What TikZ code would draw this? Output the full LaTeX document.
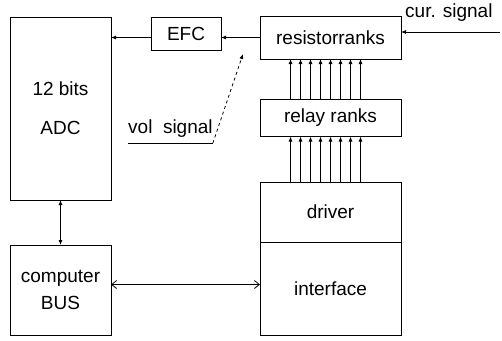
\documentclass[tikz,border=0pt]{standalone}
\usepackage{fontspec}
\setmainfont{Liberation Sans}
\usepackage{tikz}
\usetikzlibrary{arrows.meta,positioning}

\begin{document}
\begin{tikzpicture}[x=1pt, y=-1pt,
      blk/.style={draw, line width=0.8pt, inner sep=0pt, outer sep=0pt,
                  font=\fontsize{19}{23}\selectfont, align=center},
      lbl/.style={inner sep=0pt, font=\fontsize{19}{23}\selectfont},
      arr/.style={-{Latex[length=5pt,width=4pt]}, line width=0.8pt},
      darr/.style={{Latex[length=5pt,width=4pt]}-{Latex[length=5pt,width=4pt]}, line width=0.8pt},
      barb/.style={{Straight Barb[length=5pt,width=8pt]}-{Straight Barb[length=5pt,width=8pt]}, line width=0.8pt}
  ]
    \useasboundingbox (0,0) rectangle (502,340);
    \node[blk, minimum width=101pt, minimum height=183pt] (adc) at (60.5,108.5) {12 bits\\[16pt]ADC};
    \node[blk, minimum width=101pt, minimum height=90pt]  (bus) at (60.5,290) {computer\\[4pt]BUS};
    \node[blk, minimum width=70pt,  minimum height=33pt]  (efc) at (186,33.5) {EFC};
    \node[blk, minimum width=141pt, minimum height=43pt]  (res) at (330.5,37.5) {resistorranks};
    \node[blk, minimum width=141pt, minimum height=37pt]  (rly) at (330.5,118) {relay ranks};
    \node[blk, minimum width=141pt, minimum height=60pt]  (drv) at (330.5,212) {driver};
    \node[blk, minimum width=141pt, minimum height=93pt, below=0pt of drv] (ifc) {interface};
    \node[lbl, anchor=south west] (cur) at (405,22) {cur. signal};
    \coordinate (curin) at (500,32);
    \node[lbl, anchor=south west] (vol) at (128,138) {vol~~signal};
    \coordinate (voltip) at (243,54);

    \draw[arr] (curin) -- (curin -| res.east);
    \draw[arr] (res.west) -- (res.west -| efc.east);
    \draw[arr] (res.west -| efc.west) -- (res.west -| adc.east);
    \draw[line width=0.8pt] (vol.south west) ++(0,5) coordinate (v0) -- (v0 -| vol.south east) coordinate (v1);
    \draw[arr, dashed] (v1) -- (voltip);
    \foreach \d in {-40,-30,...,30} {
      \draw[arr] ([xshift=\d pt]rly.north) -- ([xshift=\d pt]res.south);
      \draw[arr] ([xshift=\d pt]drv.north) -- ([xshift=\d pt]rly.south);
    }
    \draw[darr] (adc.south) -- (bus.north);
    \draw[barb] ([yshift=5.5pt]bus.east) -- ([yshift=5.5pt]bus.east -| ifc.west);
  \end{tikzpicture}
\end{document}
